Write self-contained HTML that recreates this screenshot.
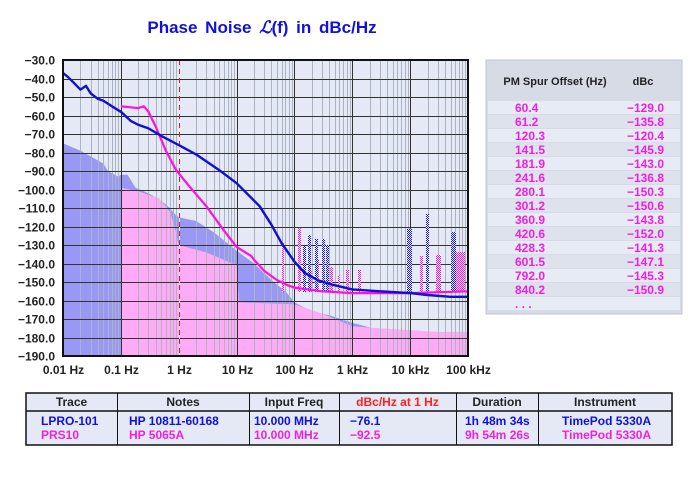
<!DOCTYPE html>
<html><head><meta charset="utf-8"><style>
body{margin:0;background:#fff;width:698px;height:480px;overflow:hidden;font-family:"Liberation Sans",Arial,sans-serif}
svg{position:absolute;left:0;top:0}
</style></head><body>
<svg id="s" width="698" height="480" xmlns="http://www.w3.org/2000/svg" font-family="Liberation Sans, Arial, sans-serif"></svg>
<script>
const S=document.getElementById('s');let h='';
const X=f=>63+57.86*(Math.log10(f)+2), Y=d=>60+(-30-d)*1.85;
const P=v=>Math.round(v)+0.5;
h+='<defs><pattern id="pb" width="2" height="2" patternUnits="userSpaceOnUse"><rect width="2" height="2" fill="#fff"/><rect width="1" height="1" fill="#1010ff"/><rect x="1" y="1" width="1" height="1" fill="#1010ff"/></pattern><pattern id="pp" width="2" height="2" patternUnits="userSpaceOnUse"><rect width="2" height="2" fill="#fff"/><rect width="1" height="1" fill="#ff10e0"/><rect x="1" y="1" width="1" height="1" fill="#ff10e0"/></pattern></defs>';
h+='<text x="262" y="33" fill="#1010e0" font-size="17" font-weight="bold" text-anchor="middle" word-spacing="3">Phase  Noise <tspan font-family="Liberation Serif" font-style="italic">ℒ</tspan>(f) in dBc/Hz</text>';
h+='<rect x="63" y="60" width="405" height="296" fill="#e4e9f5"/>';
function poly(pts,c){let p='';pts.forEach(a=>p+=X(a[0]).toFixed(1)+','+Y(a[1]).toFixed(1)+' ');h+=`<polygon points="${p}" fill="${c}"/>`;}
poly([[0.01,-190],[0.01,-75],[0.02,-79],[0.03,-82],[0.05,-86],[0.06,-90],[0.09,-93],[0.1,-92],[0.13,-92],[0.18,-99],[0.3,-102],[0.5,-106],[0.7,-110],[0.9,-114],[1,-115],[2,-117],[4,-123],[10,-133],[20,-140],[40,-149],[70,-155],[100,-161],[200,-166],[400,-168],[1000,-172],[3000,-176],[10000,-178],[100000,-178],[100000,-190]],'#9999f5');
poly([[0.1,-190],[0.1,-99],[0.2,-101],[0.47,-105],[0.7,-112],[0.85,-120],[1,-130],[3,-134],[6,-138],[10,-141],[11,-161],[100,-162],[300,-167],[1000,-174],[3000,-175],[10000,-176],[30000,-177],[100000,-177],[100000,-190]],'#ffaaf5');
for(let e=-2;e<5;e++)for(let m=2;m<10;m++){let x=P(X(m*10**e));h+=`<line x1="${x}" y1="60" x2="${x}" y2="356" stroke="#aab4c2" stroke-width="1"/>`;}
for(let d=-30;d>=-190;d-=10){let y=P(Y(d));h+=`<line x1="63" y1="${y}" x2="468" y2="${y}" stroke="#333" stroke-width="1"/>`;
h+=`<text x="55" y="${y+4}" font-size="12" font-weight="bold" fill="#222" text-anchor="end">\u2212${(-d).toFixed(1)}</text>`;}
const lab=['0.01 Hz','0.1 Hz','1 Hz','10 Hz','100 Hz','1 kHz','10 kHz','100 kHz'];
for(let e=-2;e<=5;e++){let x=P(X(10**e));h+=`<line x1="${x}" y1="60" x2="${x}" y2="356" stroke="#333"/>`;
h+=`<text x="${x}" y="374" font-size="12" font-weight="bold" fill="#222" text-anchor="middle">${lab[e+2]}</text>`;}
{let x=P(X(1));h+=`<line x1="${x}" y1="60" x2="${x}" y2="356" stroke="#e4e9f5" stroke-width="1"/><line x1="${x}" y1="60" x2="${x}" y2="356" stroke="#d02020" stroke-dasharray="5,4"/>`;}
function bar(x,w,t,c){h+=`<rect x="${x}" y="${t}" width="${w}" height="${292-t}" fill="url(#${c})"/>`;}
[[282,2,243],[298,3,228],[303,2,275],[309,3,270],[316,3,260],[330,3,267],[338,2,275],[346,3,270],[358,3,270],[420,3,256],[436,5,255],[453,12,252]].forEach(a=>bar(a[0],a[1],a[2],'pp'));
[[303,3,246],[308,3,235],[315,3,239],[322,3,239],[326,3,245],[407,5,229],[426,3,214],[451,5,232]].forEach(a=>bar(a[0],a[1],a[2],'pb'));
function line(pts,c,w){let p='';pts.forEach(a=>p+=X(a[0]).toFixed(1)+','+Y(a[1]).toFixed(1)+' ');h+=`<polyline points="${p}" fill="none" stroke="${c}" stroke-width="${w}" stroke-linejoin="round"/>`;}
line([[0.1,-55],[0.2,-56],[0.25,-55],[0.3,-58],[0.4,-66],[0.6,-79],[0.9,-89.5],[1.5,-98],[3,-109],[6,-122],[10,-131],[18,-136],[20,-138],[30,-144],[50,-149],[80,-152],[100,-153],[300,-155],[1000,-156],[10000,-156],[100000,-155]],'#ff10e0',2.2);
line([[0.01,-37],[0.012,-39],[0.015,-42],[0.02,-46],[0.025,-44],[0.03,-48],[0.04,-51],[0.05,-52],[0.07,-55],[0.1,-58],[0.15,-63],[0.2,-65],[0.3,-67],[0.5,-71],[1,-76],[2,-81],[5,-89.5],[10,-96.6],[25,-109],[40,-119],[60,-129],[100,-139],[150,-145],[250,-149],[400,-151],[1000,-154],[3000,-155],[10000,-156],[20000,-157],[50000,-158],[100000,-158]],'#1010d0',2.4);
h+='<rect x="63" y="60" width="405" height="296" fill="none" stroke="#111" stroke-width="2"/>';
h+='<rect x="486" y="60" width="196" height="254" fill="#d6dbe6" stroke="#c0c6d2"/>';
h+='<text x="555" y="85" font-size="11" font-weight="bold" fill="#222" text-anchor="middle">PM Spur Offset (Hz)</text><text x="643" y="85" font-size="11" font-weight="bold" fill="#222" text-anchor="middle">dBc</text>';
const sp=[['60.4','129.0'],['61.2','135.8'],['120.3','120.4'],['141.5','145.9'],['181.9','143.0'],['241.6','136.8'],['280.1','150.3'],['301.2','150.6'],['360.9','143.8'],['420.6','152.0'],['428.3','141.3'],['601.5','147.1'],['792.0','145.3'],['840.2','150.9'],['. . .','']];
sp.forEach((r,i)=>{let y=101+i*14;h+=`<rect x="488" y="${y}" width="192" height="13" fill="${i%2?'#dde2ec':'#e6ebf5'}"/>`;
h+=`<text x="515" y="${y+11}" font-size="12" font-weight="bold" fill="#f020e0">${r[0]}</text>`;
if(r[1])h+=`<text x="664" y="${y+11}" font-size="12" font-weight="bold" fill="#f020e0" text-anchor="end">\u2212${r[1]}</text>`;});
h+='<rect x="26" y="393" width="646" height="52" fill="#e4e9f5" stroke="#111" stroke-width="1.5"/><line x1="26" y1="411" x2="672" y2="411" stroke="#111" stroke-width="1.5"/>';
const cols=[26,117,249,339,456,538,672];
cols.slice(1,6).forEach(x=>h+=`<line x1="${x+0.5}" y1="393" x2="${x+0.5}" y2="445" stroke="#111"/>`);
const hd=['Trace','Notes','Input Freq','dBc/Hz at 1 Hz','Duration','Instrument'];
const r1=['LPRO-101','HP 10811-60168','10.000 MHz','\u221276.1','1h 48m 34s','TimePod 5330A'];
const r2=['PRS10','HP 5065A','10.000 MHz','\u221292.5','9h 54m 26s','TimePod 5330A'];
const lx=[41,129,254,350,465,562];
hd.forEach((t,i)=>{let m=(cols[i]+cols[i+1])/2;h+=`<text x="${m}" y="406" font-size="12" font-weight="bold" fill="${i==3?'#ff2020':'#222'}" text-anchor="middle">${t}</text>`;
h+=`<text x="${lx[i]}" y="425" font-size="12" font-weight="bold" fill="#1010e0">${r1[i]}</text><text x="${lx[i]}" y="439" font-size="12" font-weight="bold" fill="#f020e0">${r2[i]}</text>`;});
S.innerHTML=h;
</script>
</body></html>
